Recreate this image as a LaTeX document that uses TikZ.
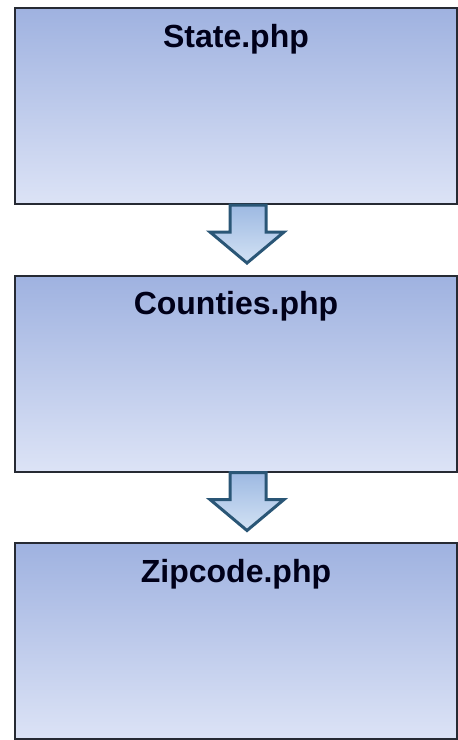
\documentclass[tikz,border=0pt]{standalone}
\usepackage{fontspec}
\setmainfont{Liberation Sans}
\usepackage{tikz}
\usetikzlibrary{positioning, calc}
\definecolor{boxtop}{HTML}{9FB2E0}
\definecolor{boxbot}{HTML}{DCE3F6}
\definecolor{boxline}{HTML}{262A33}
\definecolor{arrline}{HTML}{2A5676}
\definecolor{arrtop}{HTML}{9DB9E2}
\definecolor{arrbot}{HTML}{D3E2F4}
\tikzset{
  phpbox/.style={rectangle, draw=boxline, line width=2pt, top color=boxtop,
    bottom color=boxbot, minimum width=442pt, minimum height=196pt, inner sep=0pt},
  phplabel/.style={anchor=north, inner sep=0pt, text=black!90!blue,
    font=\fontsize{32}{38}\selectfont\bfseries},
  blockarr/.style={draw=arrline, line width=3pt, line join=miter,
    top color=arrtop, bottom color=arrbot}
}
\begin{document}
\begin{tikzpicture}[x=1pt,y=-1pt]%
  \useasboundingbox (0,0) rectangle (458,740);
  \node[phpbox, label={[phplabel, yshift=-17pt]north:State.php}] (state) at (236,106) {};
  \node[phpbox, label={[phplabel, yshift=-17pt]north:Counties.php}] (counties) at (236,373.5) {};
  \node[phpbox, label={[phplabel, yshift=-17pt]north:Zipcode.php}] (zipcode) at (236,641) {};
  % block arrows between the boxes
  \foreach \src in {state,counties}{
    \path[blockarr] ($(\src.south)+(-6,0)$) -- ($(\src.south)+(30,0)$)
      -- ($(\src.south)+(30,27)$) -- ($(\src.south)+(48,27)$)
      -- ($(\src.south)+(11,58)$) -- ($(\src.south)+(-26,27)$)
      -- ($(\src.south)+(-6,27)$) -- cycle;}
\end{tikzpicture}
\end{document}
